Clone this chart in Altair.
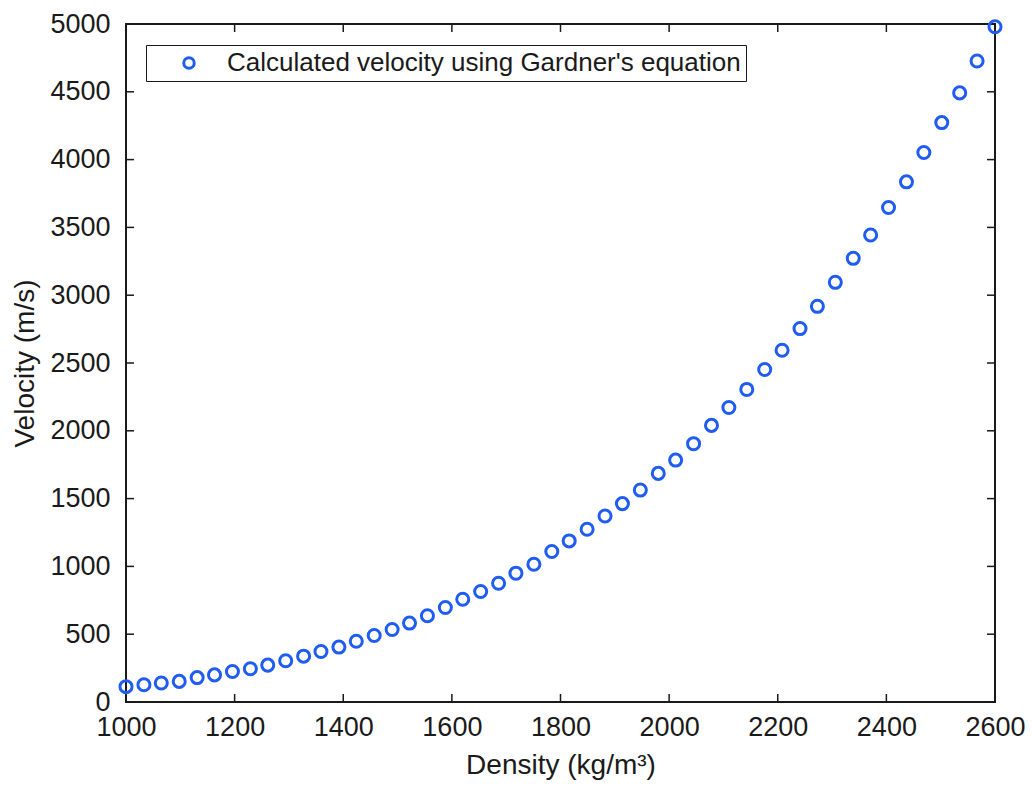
import altair as alt
import pandas as pd

# Data
density = [1000, 1033, 1065, 1098, 1131, 1163, 1196, 1229, 1261, 1294,
           1327, 1359, 1392, 1424, 1457, 1490, 1522, 1555, 1588, 1620,
           1653, 1686, 1718, 1751, 1784, 1816, 1849, 1882, 1914, 1947,
           1980, 2012, 2045, 2078, 2110, 2143, 2176, 2208, 2241, 2273,
           2306, 2339, 2371, 2404, 2437, 2469, 2502, 2535, 2567, 2600]
velocity = [113, 127, 140, 152, 180, 200, 225, 245, 272, 304,
            338, 372, 405, 448, 490, 535, 582, 636, 697, 758,
            815, 876, 950, 1016, 1110, 1188, 1274, 1372, 1463, 1563,
            1686, 1784, 1905, 2040, 2172, 2305, 2452, 2594, 2754, 2918,
            3095, 3272, 3444, 3647, 3836, 4052, 4273, 4492, 4727, 4980]
series_label = "Calculated velocity using Gardner's equation"
x_ticks = [1000, 1200, 1400, 1600, 1800, 2000, 2200, 2400, 2600]
y_ticks = [0, 500, 1000, 1500, 2000, 2500, 3000, 3500, 4000, 4500, 5000]

W, H = 869, 678
TICK = 8
FONT = "Liberation Sans"
BLUE = "#1f5cf2"
INK = "#1a1a1a"

df = pd.DataFrame({"density": density, "velocity": velocity,
                   "series": [series_label] * len(density)})
xt = pd.DataFrame({"t": x_ticks})
yt = pd.DataFrame({"t": y_ticks})

xscale = alt.Scale(domain=[1000, 2600], nice=False, zero=False)
yscale = alt.Scale(domain=[0, 5000], nice=False)

points = alt.Chart(df).mark_point(
    shape="circle", filled=False, size=145, strokeWidth=3, opacity=1
).encode(
    x=alt.X("density:Q", scale=xscale,
            axis=alt.Axis(values=x_ticks, tickSize=0, domain=False, grid=False,
                          labelFontSize=27, labelPadding=12, labelColor=INK,
                          labelFont=FONT, title="Density (kg/m³)",
                          titleFont=FONT, titleFontSize=28, titleFontWeight="normal",
                          titleColor=INK, titlePadding=11, labelFlush=False,
                          format="d")),
    y=alt.Y("velocity:Q", scale=yscale,
            axis=alt.Axis(values=y_ticks, tickSize=0, domain=False, grid=False,
                          labelFontSize=27, labelPadding=16, labelColor=INK,
                          labelFont=FONT, title="Velocity (m/s)",
                          titleFont=FONT, titleFontSize=28, titleFontWeight="normal",
                          titleColor=INK, titlePadding=10, labelFlush=False,
                          format="d")),
    color=alt.Color("series:N", scale=alt.Scale(range=[BLUE]),
                    legend=alt.Legend(title=None, orient="none", legendX=20, legendY=21,
                                      strokeColor=INK, fillColor="white", padding=5,
                                      symbolType="circle", symbolSize=110,
                                      symbolStrokeWidth=3, symbolFillColor="white",
                                      symbolOffset=25, labelOffset=25,
                                      labelFont=FONT, labelFontSize=26,
                                      labelColor=INK, labelLimit=800)),
)

x_bottom = alt.Chart(xt).mark_rule(color=INK, strokeWidth=1.5).encode(
    x=alt.X("t:Q", scale=xscale), y=alt.value(H), y2=alt.value(H - TICK))
x_top = alt.Chart(xt).mark_rule(color=INK, strokeWidth=1.5).encode(
    x=alt.X("t:Q", scale=xscale), y=alt.value(0), y2=alt.value(TICK))
y_left = alt.Chart(yt).mark_rule(color=INK, strokeWidth=1.5).encode(
    y=alt.Y("t:Q", scale=yscale), x=alt.value(0), x2=alt.value(TICK))
y_right = alt.Chart(yt).mark_rule(color=INK, strokeWidth=1.5).encode(
    y=alt.Y("t:Q", scale=yscale), x=alt.value(W - TICK), x2=alt.value(W))

chart = alt.layer(x_bottom, x_top, y_left, y_right, points).properties(
    width=W, height=H,
    autosize=alt.AutoSizeParams(type="none"),
    padding={"left": 126, "top": 24, "right": 38, "bottom": 88},
    background="white",
).configure_view(stroke=INK, strokeWidth=2)

chart.save("out.html", embed_options={"renderer": "svg", "actions": False})
